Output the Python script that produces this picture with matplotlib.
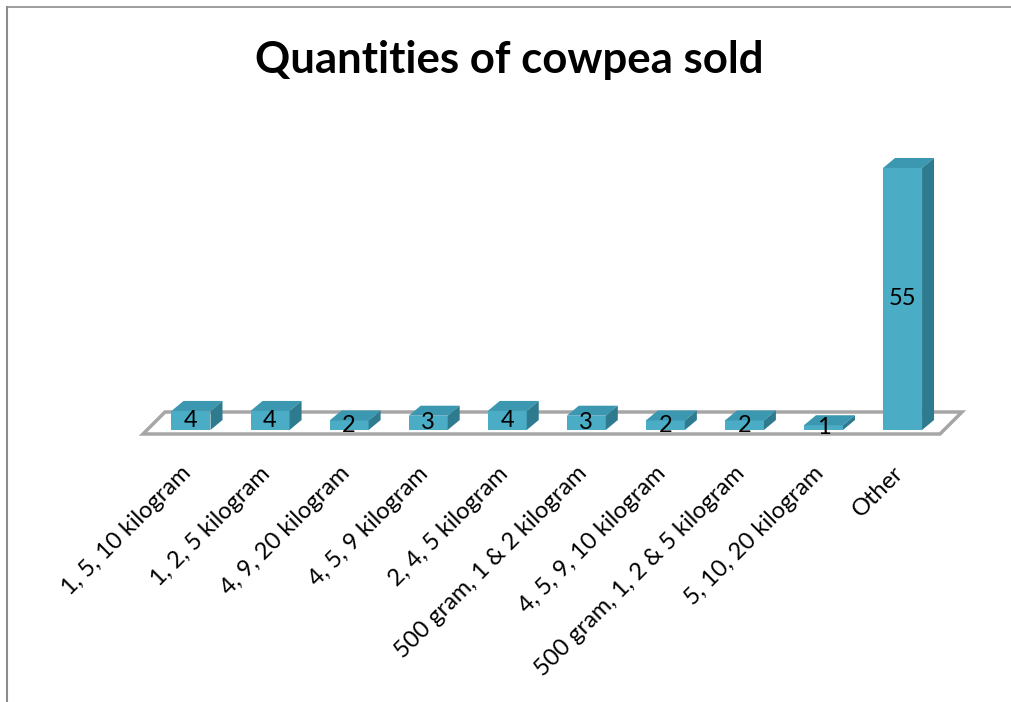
import matplotlib
matplotlib.use('Agg')
import matplotlib.pyplot as plt
from matplotlib.patches import Polygon
from matplotlib.lines import Line2D

plt.rcParams['font.family'] = ['Lato', 'DejaVu Sans']

# ---------------------------------------------
# data
categories = ['1, 5, 10 kilogram', '1, 2, 5 kilogram', '4, 9, 20 kilogram',
              '4, 5, 9 kilogram', '2, 4, 5 kilogram', '500 gram, 1 & 2 kilogram',
              '4, 5, 9, 10 kilogram', '500 gram, 1, 2 & 5 kilogram',
              '5, 10, 20 kilogram', 'Other']
counts = [4, 4, 2, 3, 4, 3, 2, 2, 1, 55]
title = 'Quantities of cowpea sold'

# ---------------------------------------------
# layout (pixels on a 1012x702 canvas)
W, H = 1012, 702
x0_px, step_px = 191, 79.06      # centre of first bar, bar spacing
base_px, unit_px = 430, 4.764     # baseline row, pixels per count

front_col = '#4BACC6'
top_col = '#3C98B0'
side_col = '#2E7B8F'
floor_col = '#A6A6A6'

fig = plt.figure(figsize=(W / 100, H / 100), dpi=100)
ax = fig.add_axes([0, 0, 1, 1])
ax.set_xlim(-x0_px / step_px, (W - x0_px) / step_px)
ax.set_ylim(-(H - base_px) / unit_px, base_px / unit_px)
ax.axis('off')

def px(dx, dy):
    # pixel offset -> data offset (dy positive = up)
    return dx / step_px, dy / unit_px

n = len(categories)
bw = 39 / step_px
ddx, ddy = px(12, 10)

# floor
fl, _ = px(-48, 0)
fr, _ = px(749 - 0, 0)
_, f_front = px(0, -4)
fdx, fdy = px(22, 22)
floor = Polygon([(fl, f_front), (fr + (n - 10), f_front),
                 (fr + (n - 10) + fdx, f_front + fdy), (fl + fdx, f_front + fdy)],
                closed=True, facecolor='white', edgecolor=floor_col, lw=2.5, zorder=1)
ax.add_patch(floor)

# bars: front face + top + right side
xs = list(range(n))
ax.bar(xs, counts, width=bw, color=front_col, zorder=3, linewidth=0)
for x, v in zip(xs, counts):
    xa, xb = x - bw / 2, x + bw / 2
    ax.add_patch(Polygon([(xa, v), (xb, v), (xb + ddx, v + ddy), (xa + ddx, v + ddy)],
                         closed=True, facecolor=top_col, lw=0, zorder=3))
    ax.add_patch(Polygon([(xb, 0), (xb, v), (xb + ddx, v + ddy), (xb + ddx, ddy)],
                         closed=True, facecolor=side_col, lw=0, zorder=3))
    ax.text(x, v / 2, str(v), ha='center', va='center', fontsize=17, zorder=5)

# category labels
_, lab_y = px(0, -40)
lab_dx, _ = px(-3, 0)
for x, lab in zip(xs, categories):
    ax.text(x + lab_dx, lab_y, lab, rotation=45, rotation_mode='anchor',
            ha='right', va='center', fontsize=17)

fig.text(509 / W, 1 - 60 / H, title, ha='center', va='center',
         fontsize=31.5, fontweight='bold')

# chart area border (top and left)
fig.add_artist(Line2D([7 / W, 1], [1 - 7 / H, 1 - 7 / H], color='#8C8C8C', lw=1.2))
fig.add_artist(Line2D([7 / W, 7 / W], [0, 1 - 7 / H], color='#8C8C8C', lw=1.5))

fig.savefig('out.png', dpi=100)
